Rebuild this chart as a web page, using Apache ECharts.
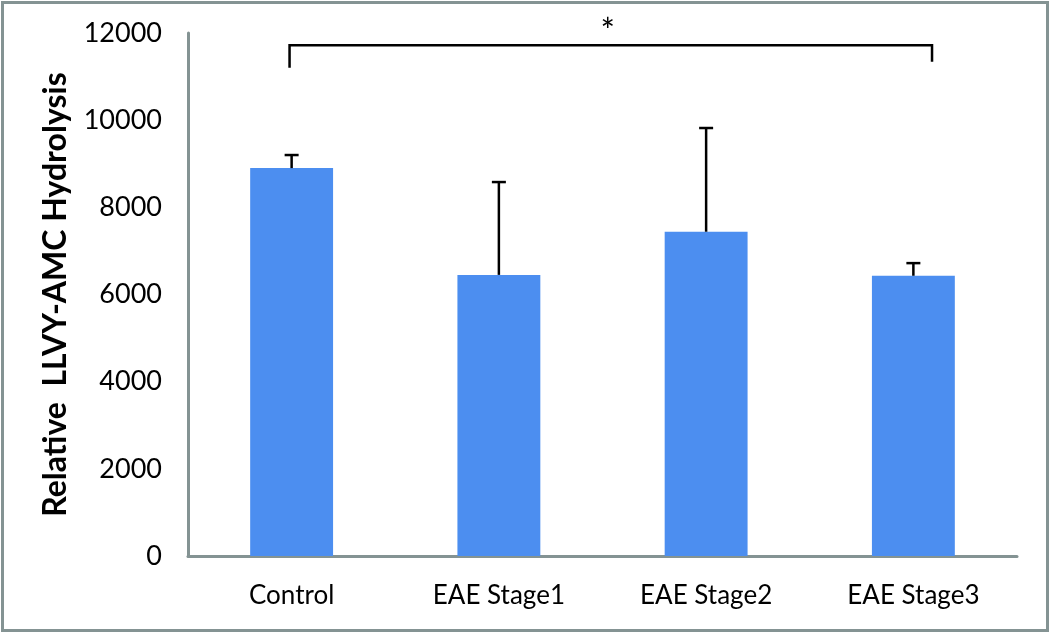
<!DOCTYPE html>
<html>
<head>
<meta charset="utf-8">
<script src="https://cdn.jsdelivr.net/npm/echarts@6/dist/echarts.min.js"></script>
<style>html,body{margin:0;padding:0;background:#fff}#c{width:1050px;height:632px}</style>
</head>
<body>
<div id="c"></div>
<script>
const categories = ['Control', 'EAE Stage1', 'EAE Stage2', 'EAE Stage3'];
const means = [8900, 6450, 7440, 6430];
const errors = [300, 2130, 2380, 290];
const yTicks = [0, 2000, 4000, 6000, 8000, 10000, 12000];
const yAxisTitle = 'Relative  LLVY-AMC Hydrolysis';
// significance bracket: between Control and EAE Stage3
const bracketLevel = 11720;
const bracketLeftEnd = 11200;
const bracketRightEnd = 11340;
const bracketLabel = '*';

const FONT = 'Lato';
const chart = echarts.init(document.getElementById('c'), null, {renderer: 'canvas'});

const errData = means.map((m, i) => [i, m, m + errors[i]]);

chart.setOption({
  backgroundColor: '#ffffff',
  animation: false,
  grid: {left: 188, right: 33, top: 33, bottom: 76, containLabel: false},
  xAxis: {
    type: 'category',
    data: categories,
    axisTick: {show: false},
    axisLine: {lineStyle: {color: '#849393', width: 3}},
    axisLabel: {color: '#000', fontFamily: FONT, fontSize: 26, margin: 27}
  },
  yAxis: {
    type: 'value',
    min: yTicks[0],
    max: yTicks[yTicks.length - 1],
    interval: yTicks[1] - yTicks[0],
    name: yAxisTitle,
    nameLocation: 'middle',
    nameGap: 116,
    nameTextStyle: {color: '#000', fontFamily: FONT, fontSize: 32, fontWeight: 'bold'},
    axisLine: {show: true, lineStyle: {color: '#849393', width: 3}},
    axisTick: {show: false},
    splitLine: {show: false},
    axisLabel: {color: '#000', fontFamily: FONT, fontSize: 27, margin: 26, formatter: v => String(v)}
  },
  series: [
    {
      type: 'bar',
      data: means,
      barWidth: '40%',
      itemStyle: {color: '#4c8ef0'},
      z: 2
    },
    {
      type: 'custom',
      data: errData,
      z: 3,
      renderItem: function (params, api) {
        const x = api.value(0);
        const lo = api.coord([x, api.value(1)]);
        const hi = api.coord([x, api.value(2)]);
        const hw = 7;
        return {
          type: 'group',
          children: [
            {type: 'line', shape: {x1: lo[0], y1: lo[1], x2: hi[0], y2: hi[1]}, style: {stroke: '#000', lineWidth: 2.5}},
            {type: 'line', shape: {x1: hi[0] - hw, y1: hi[1], x2: hi[0] + hw, y2: hi[1]}, style: {stroke: '#000', lineWidth: 2.5}}
          ]
        };
      }
    },
    {
      type: 'custom',
      data: [[0, categories.length - 1]],
      clip: false,
      z: 4,
      renderItem: function (params, api) {
        const band = api.size([1, 0])[0];
        const l = api.coord([api.value(0), bracketLevel]);
        const r = api.coord([api.value(1), bracketLevel]);
        const x1 = l[0] - 0.01 * band;
        const x2 = r[0] + 0.09 * band;
        const yL = api.coord([0, bracketLeftEnd])[1];
        const yR = api.coord([0, bracketRightEnd])[1];
        const yTop = l[1];
        return {
          type: 'group',
          children: [
            {type: 'polyline', shape: {points: [[x1, yL], [x1, yTop], [x2, yTop], [x2, yR]]}, style: {stroke: '#000', lineWidth: 2.5, fill: null}},
            {type: 'text', style: {text: bracketLabel, x: (x1 + x2) / 2 - 3, y: yTop + 4, align: 'center', verticalAlign: 'bottom', font: '34px ' + FONT, fill: '#000'}}
          ]
        };
      }
    }
  ],
  graphic: [
    {type: 'rect', left: 0, top: 0, shape: {x: 1.5, y: 1.5, width: 1045, height: 628}, style: {fill: null, stroke: '#849393', lineWidth: 3}, silent: true}
  ]
});
</script>
</body>
</html>
